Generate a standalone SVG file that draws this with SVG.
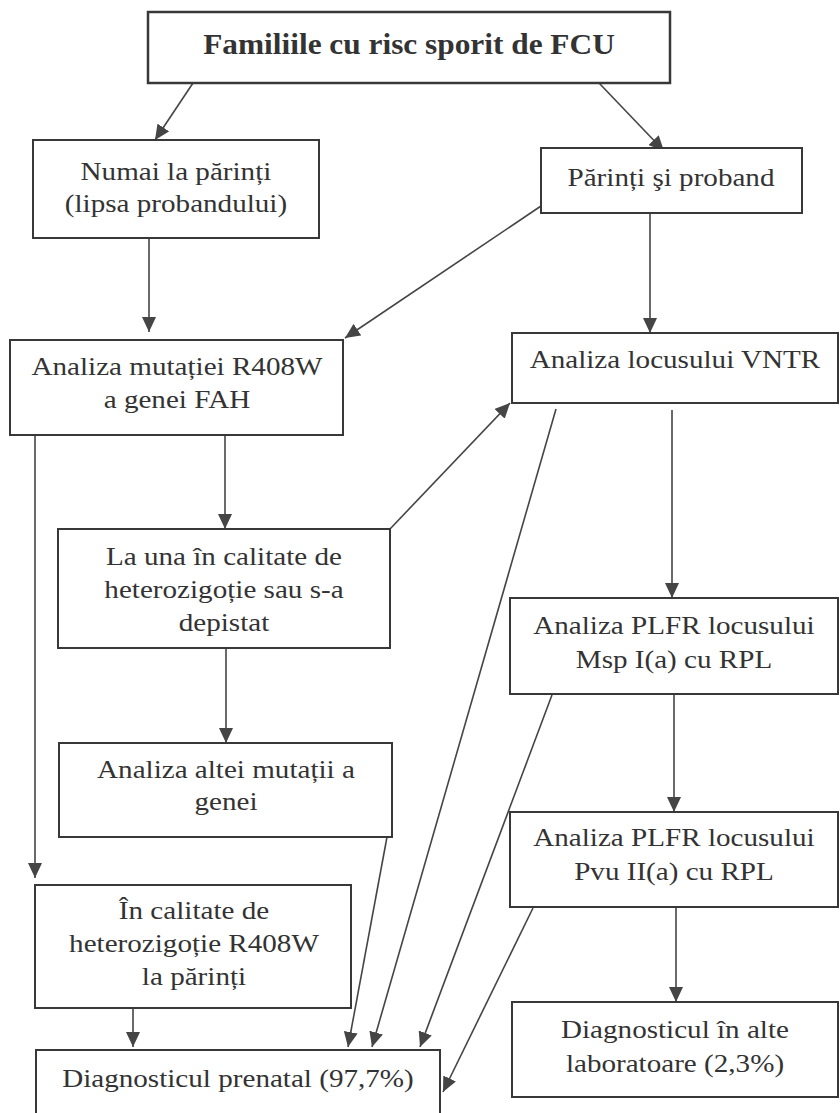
<svg xmlns="http://www.w3.org/2000/svg" width="840" height="1113" viewBox="0 0 840 1113">
  <defs>
    <style>
      .box { fill: #ffffff; stroke: #383838; stroke-width: 2; }
      .title-box { stroke-width: 2.5; }
      .lbl { font-family: "Liberation Serif", "Times New Roman", serif; font-size: 26px; fill: #333333; text-anchor: middle;
             transform-box: fill-box; transform-origin: center; transform: scaleX(1.12); }
      .title { font-weight: bold; font-size: 28.5px; transform: scaleX(1.1); }
      .edge { fill: none; stroke: #454545; stroke-width: 1.6; marker-end: url(#arrow); }
    </style>
    <marker id="arrow" markerUnits="userSpaceOnUse" markerWidth="16" markerHeight="14" refX="15" refY="7" orient="auto">
      <path d="M0,0 L15,7 L0,14 Z" fill="#454545"/>
    </marker>
  </defs>

  <rect width="840" height="1113" fill="#ffffff"/>

  <!-- flow connectors -->
  <g id="connectors">
    <line class="edge" x1="193" y1="83" x2="155" y2="140"/>
    <line class="edge" x1="599" y1="83" x2="664" y2="151"/>
    <line class="edge" x1="149" y1="238" x2="149" y2="332"/>
    <line class="edge" x1="541" y1="206" x2="345" y2="338"/>
    <line class="edge" x1="650" y1="213" x2="650" y2="333"/>
    <line class="edge" x1="225" y1="435" x2="225" y2="529"/>
    <line class="edge" x1="35" y1="435" x2="35" y2="878"/>
    <line class="edge" x1="390" y1="529" x2="510" y2="403"/>
    <line class="edge" x1="672" y1="410" x2="672" y2="598"/>
    <line class="edge" x1="556" y1="409" x2="372" y2="1047"/>
    <line class="edge" x1="226" y1="648" x2="226" y2="743"/>
    <line class="edge" x1="674" y1="694" x2="674" y2="812"/>
    <line class="edge" x1="552" y1="695" x2="420" y2="1047"/>
    <line class="edge" x1="387" y1="837" x2="348" y2="1047"/>
    <line class="edge" x1="676" y1="907" x2="676" y2="1002"/>
    <line class="edge" x1="533" y1="908" x2="443" y2="1092"/>
    <line class="edge" x1="133" y1="1008" x2="133" y2="1047"/>
  </g>

  <g id="node-familii">
    <rect class="box title-box" x="148" y="12" width="522" height="71"/>
    <text class="lbl title" x="409" y="54">Familiile cu risc sporit de FCU</text>
  </g>

  <g id="node-numai-parinti">
    <rect class="box" x="33" y="140" width="286" height="98"/>
    <text class="lbl" x="176" y="180">Numai la părinți</text>
    <text class="lbl" x="176" y="212">(lipsa probandului)</text>
  </g>

  <g id="node-parinti-proband">
    <rect class="box" x="541" y="148" width="261" height="65"/>
    <text class="lbl" x="671" y="186">Părinți şi proband</text>
  </g>

  <g id="node-r408w">
    <rect class="box" x="10" y="340" width="333" height="95"/>
    <text class="lbl" x="177" y="375">Analiza mutației R408W</text>
    <text class="lbl" x="177" y="408">a genei FAH</text>
  </g>

  <g id="node-vntr">
    <rect class="box" x="512" y="333" width="326" height="70"/>
    <text class="lbl" x="675" y="368">Analiza locusului VNTR</text>
  </g>

  <g id="node-heterozigotie-una">
    <rect class="box" x="58" y="529" width="332" height="119"/>
    <text class="lbl" x="224" y="565">La una în calitate de</text>
    <text class="lbl" x="224" y="598">heterozigoție sau s-a</text>
    <text class="lbl" x="224" y="631">depistat</text>
  </g>

  <g id="node-msp">
    <rect class="box" x="510" y="598" width="328" height="96"/>
    <text class="lbl" x="674" y="634">Analiza PLFR locusului</text>
    <text class="lbl" x="674" y="668">Msp I(a) cu RPL</text>
  </g>

  <g id="node-alta-mutatie">
    <rect class="box" x="59" y="743" width="333" height="94"/>
    <text class="lbl" x="226" y="778">Analiza altei mutații a</text>
    <text class="lbl" x="226" y="810">genei</text>
  </g>

  <g id="node-pvu">
    <rect class="box" x="510" y="812" width="328" height="95"/>
    <text class="lbl" x="674" y="846">Analiza PLFR locusului</text>
    <text class="lbl" x="674" y="880">Pvu II(a) cu RPL</text>
  </g>

  <g id="node-heterozigotie-parinti">
    <rect class="box" x="35" y="885" width="316" height="123"/>
    <text class="lbl" x="194" y="919">În calitate de</text>
    <text class="lbl" x="194" y="952">heterozigoție R408W</text>
    <text class="lbl" x="194" y="985">la părinți</text>
  </g>

  <g id="node-alte-laboratoare">
    <rect class="box" x="512" y="1002" width="326" height="95"/>
    <text class="lbl" x="675" y="1038">Diagnosticul în alte</text>
    <text class="lbl" x="675" y="1072">laboratoare (2,3%)</text>
  </g>

  <g id="node-prenatal">
    <rect class="box" x="36" y="1050" width="404" height="80"/>
    <text class="lbl" x="238" y="1087">Diagnosticul prenatal (97,7%)</text>
  </g>
</svg>
